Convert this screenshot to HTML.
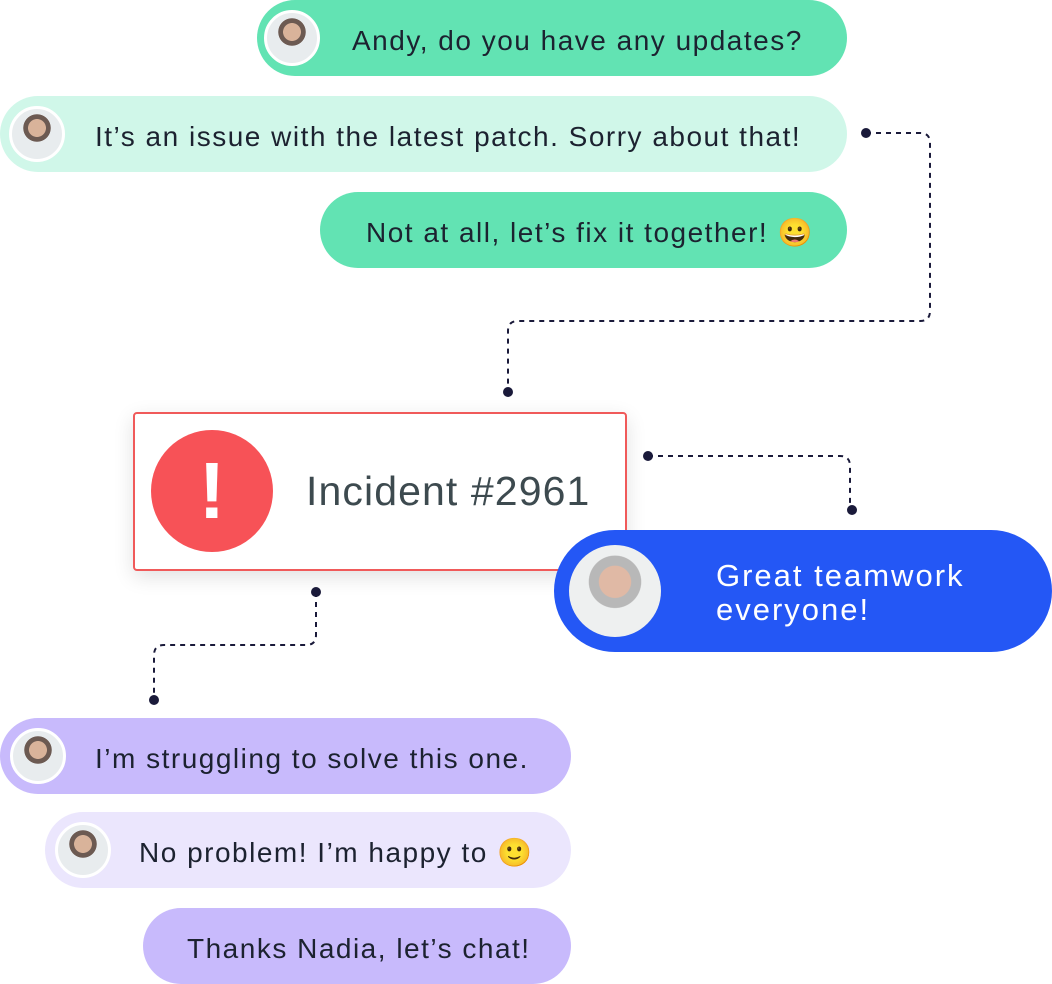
<!DOCTYPE html>
<html><head><meta charset="utf-8"><style>
body{margin:0;width:1052px;height:984px;background:#fff;position:relative;overflow:hidden;font-family:"Liberation Sans",sans-serif;}
.b{position:absolute;height:76px;border-radius:38px;box-sizing:border-box;}
.t{position:absolute;font-size:28px;letter-spacing:1.5px;color:#1c2230;white-space:nowrap;line-height:30px;}
.av{position:absolute;border-radius:50%;border:3px solid #fff;box-sizing:border-box;background:radial-gradient(circle at 50% 38%,#d9b39a 0 22%,#6c5a52 23% 34%,#e8ecee 35%);}
svg{position:absolute;left:0;top:0;}
</style></head><body>
<div class="b" style="left:257px;top:0;width:590px;background:#62e3b3"></div>
<div class="av" style="left:264px;top:10px;width:56px;height:56px"></div>
<div class="t" style="left:352px;top:26px">Andy, do you have any updates?</div>

<div class="b" style="left:0;top:96px;width:847px;background:#d0f7e9"></div>
<div class="av" style="left:9px;top:106px;width:56px;height:56px"></div>
<div class="t" style="left:95px;top:122px">It’s an issue with the latest patch. Sorry about that!</div>

<div class="b" style="left:320px;top:192px;width:527px;background:#62e3b3"></div>
<div class="t" style="left:366px;top:218px">Not at all, let’s fix it together! 😀</div>

<div style="position:absolute;left:133px;top:412px;width:494px;height:159px;box-sizing:border-box;border:2px solid #f05a5a;border-radius:4px;background:#fff;box-shadow:0 6px 20px rgba(0,0,0,.12)"></div>
<div style="position:absolute;left:151px;top:430px;width:122px;height:122px;border-radius:50%;background:#f75257;color:#fff;font-size:80px;font-weight:bold;text-align:center;line-height:122px">!</div>
<div style="position:absolute;left:306px;top:467px;font-size:41px;letter-spacing:1.1px;color:#3d4a4f;white-space:nowrap;line-height:48px">Incident #2961</div>

<div class="b" style="left:554px;top:530px;width:498px;height:122px;border-radius:61px;background:#2457f5"></div>
<div class="av" style="left:569px;top:545px;width:92px;height:92px;border:0;background:radial-gradient(circle at 50% 40%,#e0b9a5 0 22%,#b8b8b8 23% 36%,#eef0f0 37%)"></div>
<div class="t" style="left:716px;top:559px;color:#fff;font-size:31px;letter-spacing:2px;line-height:34px">Great teamwork<br>everyone!</div>

<div class="b" style="left:0;top:718px;width:571px;background:#c8bafc"></div>
<div class="av" style="left:10px;top:728px;width:56px;height:56px"></div>
<div class="t" style="left:95px;top:744px">I’m struggling to solve this one.</div>

<div class="b" style="left:45px;top:812px;width:526px;background:#ebe6fd"></div>
<div class="av" style="left:55px;top:822px;width:56px;height:56px"></div>
<div class="t" style="left:139px;top:838px">No problem! I’m happy to 🙂</div>

<div class="b" style="left:143px;top:908px;width:428px;background:#c8bafc"></div>
<div class="t" style="left:187px;top:934px">Thanks Nadia, let’s chat!</div>

<svg width="1052" height="984">
<g fill="none" stroke="#1a1a3a" stroke-width="2" stroke-dasharray="5,5">
<path d="M866 133 H920 Q930 133 930 143 V311 Q930 321 920 321 H518 Q508 321 508 331 V392"/>
<path d="M648 456 H840 Q850 456 850 466 V510"/>
<path d="M316 592 V635 Q316 645 306 645 H164 Q154 645 154 655 V700"/>
</g>
<g fill="#1a1a3a">
<circle cx="866" cy="133" r="5"/><circle cx="508" cy="392" r="5"/>
<circle cx="648" cy="456" r="5"/><circle cx="852" cy="510" r="5"/>
<circle cx="316" cy="592" r="5"/><circle cx="154" cy="700" r="5"/>
</g>
</svg>
</body></html>
